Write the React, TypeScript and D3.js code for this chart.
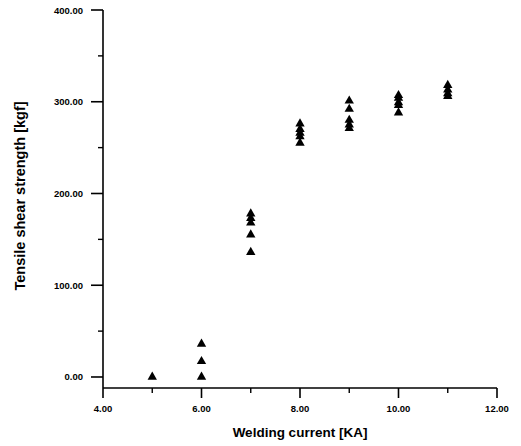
import React from "react";
import * as d3 from "d3";

const currents5 = [5];
const strength5 = [0];
const currents = [6, 6, 6, 7, 7, 7, 7, 7, 8, 8, 8, 8, 8, 9, 9, 9, 9, 9, 10, 10, 10, 10, 10, 11, 11, 11, 11];
const strengths = [36, 17, 0, 178, 173, 168, 155, 136, 276, 270, 266, 262, 255, 301, 292, 280, 275, 271, 307, 304, 299, 296, 288, 318, 313, 309, 306];
const xMajorTicks = [4, 6, 8, 10, 12];
const xMinorTicks = [5, 7, 9, 11];
const yMajorTicks = [0, 100, 200, 300, 400];
const yMinorTicks = [50, 150, 250, 350];

const W = 521;
const H = 446;

export default function App() {
  const x = d3.scaleLinear().domain([4, 12]).range([103, 497]);
  const y = d3.scaleLinear().domain([-12, 400]).range([388, 10]);
  const xs = [...currents5, ...currents];
  const ys = [...strength5, ...strengths];
  const tri = d3.symbol().type(d3.symbolTriangle).size(38)();
  const font = "'Liberation Sans', Arial, sans-serif";
  const x0 = x(4);
  const y0 = y(-12);
  return (
    <svg width={W} height={H} style={{ position: "absolute", left: 0, top: 0, background: "#fff" }}>
      <rect x={0} y={0} width={W} height={H} fill="#fff" />
      <line x1={x0} y1={y(400)} x2={x0} y2={y0} stroke="#000" strokeWidth={1.6} />
      <line x1={x0} y1={y0} x2={x(12)} y2={y0} stroke="#000" strokeWidth={1.6} />
      {xMajorTicks.map((t) => (
        <g key={"xm" + t}>
          <line x1={x(t)} y1={y0} x2={x(t)} y2={y0 + 10} stroke="#000" strokeWidth={1.6} />
          <text x={x(t)} y={y0 + 24} textAnchor="middle" fontFamily={font} fontWeight="bold" fontSize={9.5} fill="#000">
            {t.toFixed(2)}
          </text>
        </g>
      ))}
      {xMinorTicks.map((t) => (
        <line key={"xn" + t} x1={x(t)} y1={y0} x2={x(t)} y2={y0 + 5} stroke="#000" strokeWidth={1.4} />
      ))}
      {yMajorTicks.map((t) => (
        <g key={"ym" + t}>
          <line x1={x0 - 12} y1={y(t)} x2={x0} y2={y(t)} stroke="#000" strokeWidth={1.6} />
          <text x={x0 - 20} y={y(t) + 3.5} textAnchor="end" fontFamily={font} fontWeight="bold" fontSize={9.5} fill="#000">
            {t.toFixed(2)}
          </text>
        </g>
      ))}
      {yMinorTicks.map((t) => (
        <line key={"yn" + t} x1={x0 - 5} y1={y(t)} x2={x0} y2={y(t)} stroke="#000" strokeWidth={1.4} />
      ))}
      {xs.map((v, i) => (
        <path key={"p" + i} d={tri as string} transform={`translate(${x(v)},${y(ys[i])})`} fill="#000" />
      ))}
      <text x={300} y={437} textAnchor="middle" fontFamily={font} fontWeight="bold" fontSize={13.5} fill="#000">
        Welding current [KA]
      </text>
      <text
        transform={`translate(25,196) rotate(-90)`}
        textAnchor="middle"
        fontFamily={font}
        fontWeight="bold"
        fontSize={14.5}
        fill="#000"
      >
        Tensile shear strength [kgf]
      </text>
    </svg>
  );
}
